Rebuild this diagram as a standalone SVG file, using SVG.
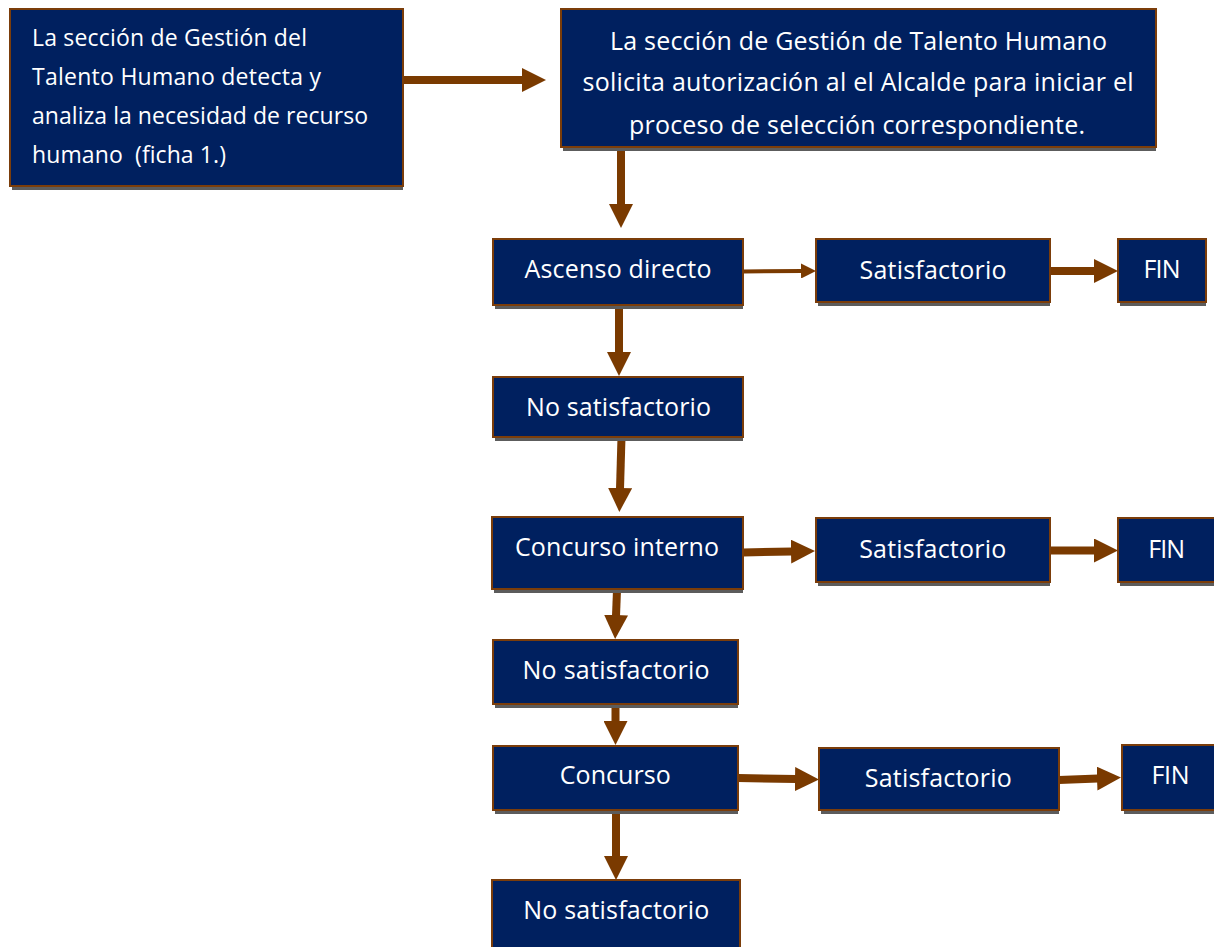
<svg xmlns="http://www.w3.org/2000/svg" width="1214" height="947" viewBox="0 0 1214 947">
<style>
.box{fill:#00205f;stroke:#7b3d0a;stroke-width:2}
.sh{fill:#5c5c5c}
.t{font-family:"Open Sans","Liberation Sans",sans-serif;font-size:25px;fill:#ffffff;text-anchor:middle}
.tl{font-family:"Open Sans","Liberation Sans",sans-serif;font-size:23px;fill:#ffffff}
.a{stroke:#7a3a00;stroke-width:8;fill:none;marker-end:url(#ah)}
.a2{stroke:#7a3a00;stroke-width:4;fill:none;marker-end:url(#ahs)}
</style>
<defs>
<marker id="ah" markerUnits="userSpaceOnUse" viewBox="0 0 24 24" markerWidth="24" markerHeight="24" refX="1" refY="12" orient="auto">
<path d="M0,0 L24,12 L0,24 Z" fill="#7a3a00"/>
</marker>
<marker id="ahs" markerUnits="userSpaceOnUse" viewBox="0 0 15 15" markerWidth="15" markerHeight="15" refX="1" refY="7.5" orient="auto">
<path d="M0,0 L15,7.5 L0,15 Z" fill="#7a3a00"/>
</marker>
<clipPath id="c2"><rect x="561" y="9" width="595" height="138"/></clipPath>
</defs>
<rect width="1214" height="947" fill="#ffffff"/>

<g id="connectors">
<line class="a" x1="403" y1="80" x2="523" y2="80"/>
<line class="a" x1="621" y1="147" x2="621" y2="205"/>
<line class="a2" x1="743" y1="271.5" x2="802" y2="271"/>
<line class="a" x1="1050" y1="271" x2="1095" y2="271"/>
<line class="a" x1="619" y1="305" x2="619" y2="353"/>
<line class="a" x1="621.5" y1="437" x2="620" y2="489"/>
<line class="a" x1="743" y1="552.5" x2="792" y2="551.5"/>
<line class="a" x1="1050" y1="550.5" x2="1095" y2="550.5"/>
<line class="a" x1="617" y1="590" x2="616" y2="616"/>
<line class="a" x1="615.5" y1="704" x2="615.5" y2="722"/>
<line class="a" x1="738" y1="778" x2="796" y2="779"/>
<line class="a" x1="1059" y1="780" x2="1098" y2="778.5"/>
<line class="a" x1="616" y1="810" x2="616" y2="857"/>
</g>

<g id="n1">
<rect class="sh" x="12" y="13" width="391" height="177"/>
<rect class="box" x="10" y="9" width="393" height="177"/>
<text class="tl" x="32" y="46" textLength="275">La sección de Gestión del</text>
<text class="tl" x="32" y="85" textLength="289">Talento Humano detecta y</text>
<text class="tl" x="32" y="124" textLength="336">analiza la necesidad de recurso</text>
<text class="tl" x="32" y="163" xml:space="preserve" textLength="194">humano  (ficha 1.)</text>
</g>

<g id="n2">
<rect class="sh" x="563" y="13" width="593" height="138"/>
<rect class="box" x="561" y="9" width="595" height="138"/>
<g clip-path="url(#c2)">
<text class="t" x="858.5" y="50" textLength="497">La sección de Gestión de Talento Humano</text>
<text class="t" x="858" y="91" textLength="551">solicita autorización al el Alcalde para iniciar el</text>
<text class="t" x="857" y="134" textLength="456">proceso de selección correspondiente.</text>
</g>
</g>

<g id="n3">
<rect class="sh" x="495" y="243" width="248" height="66"/>
<rect class="box" x="493" y="239" width="250" height="66"/>
<text class="t" x="618" y="278" textLength="187">Ascenso directo</text>
</g>

<g id="n4">
<rect class="sh" x="818" y="243" width="232" height="63"/>
<rect class="box" x="816" y="239" width="234" height="63"/>
<text class="t" x="933" y="279" textLength="147">Satisfactorio</text>
</g>

<g id="n5">
<rect class="sh" x="1120" y="243" width="86" height="63"/>
<rect class="box" x="1118" y="239" width="88" height="63"/>
<text class="t" x="1162" y="278" textLength="37">FIN</text>
</g>

<g id="n6">
<rect class="sh" x="495" y="381" width="248" height="60"/>
<rect class="box" x="493" y="377" width="250" height="60"/>
<text class="t" x="618.5" y="416" textLength="185">No satisfactorio</text>
</g>

<g id="n7">
<rect class="sh" x="494" y="521" width="249" height="72"/>
<rect class="box" x="492" y="517" width="251" height="72"/>
<text class="t" x="617" y="556" textLength="204">Concurso interno</text>
</g>

<g id="n8">
<rect class="sh" x="818" y="522" width="232" height="64"/>
<rect class="box" x="816" y="518" width="234" height="64"/>
<text class="t" x="932.7" y="558" textLength="147">Satisfactorio</text>
</g>

<g id="n9">
<rect class="sh" x="1120" y="522" width="108" height="64"/>
<rect class="box" x="1118" y="518" width="110" height="64"/>
<text class="t" x="1166.7" y="557.5" textLength="37">FIN</text>
</g>

<g id="n10">
<rect class="sh" x="495" y="644" width="243" height="64"/>
<rect class="box" x="493" y="640" width="245" height="64"/>
<text class="t" x="616" y="679" textLength="187">No satisfactorio</text>
</g>

<g id="n11">
<rect class="sh" x="495" y="750" width="243" height="64"/>
<rect class="box" x="493" y="746" width="245" height="64"/>
<text class="t" x="615.3" y="784" textLength="111">Concurso</text>
</g>

<g id="n12">
<rect class="sh" x="821" y="752" width="238" height="62"/>
<rect class="box" x="819" y="748" width="240" height="62"/>
<text class="t" x="938.3" y="787" textLength="147">Satisfactorio</text>
</g>

<g id="n13">
<rect class="sh" x="1124" y="749" width="108" height="65"/>
<rect class="box" x="1122" y="745" width="110" height="65"/>
<text class="t" x="1170.5" y="783.5" textLength="38">FIN</text>
</g>

<g id="n14">
<rect class="sh" x="494" y="884" width="246" height="90"/>
<rect class="box" x="492" y="880" width="248" height="90"/>
<text class="t" x="616.3" y="919" textLength="186">No satisfactorio</text>
</g>
</svg>
